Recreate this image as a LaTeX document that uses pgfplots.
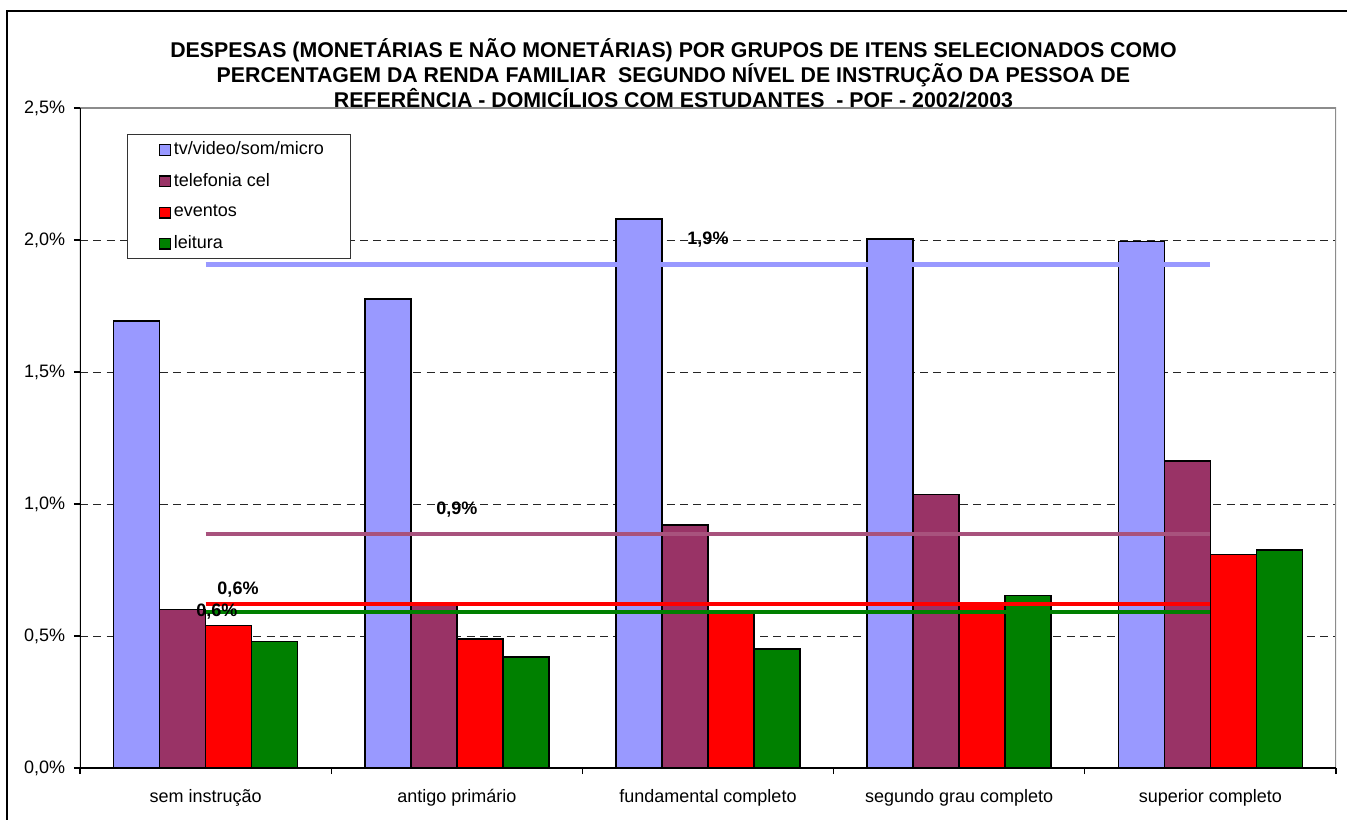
\documentclass[border=0pt]{standalone}
\usepackage{fontspec}
\setmainfont{Liberation Sans}
\usepackage{pgfplots}
\usepackage{pgfplotstable}
\pgfplotsset{compat=1.18}

\definecolor{tvblue}{HTML}{9999FF}
\definecolor{celpurple}{HTML}{993366}
\definecolor{evred}{HTML}{FF0000}
\definecolor{leitgreen}{HTML}{008000}

\pgfplotsset{
  sq legend/.style={legend image code/.code={%
    \path (0pt,0pt);
    \draw[##1,draw=black,line width=0.8pt] (5.5pt,-4.1pt) rectangle (13.75pt,4.1pt);}},
}

% share of family income, by education level
\pgfplotstableread{
x tv cel ev leit
0 1.693 0.601 0.539 0.480
1 1.776 0.615 0.488 0.421
2 2.079 0.921 0.585 0.450
3 2.003 1.035 0.625 0.653
4 1.995 1.163 0.809 0.826
}\datatab

\begin{document}
\fontsize{13.5}{16}\selectfont
\begin{tikzpicture}
\useasboundingbox (0,0) rectangle (1010.25pt,614.25pt);
\draw[line width=1pt] (5.25pt,-3pt) -- (5.25pt,606pt) -- (1015pt,606pt);
\begin{axis}[
  at={(60pt,38.25pt)}, anchor=south west,
  scale only axis, width=942pt, height=495pt,
  xmin=-0.5, xmax=4.5, ymin=0, ymax=2.5,
  xtick={0,...,4},
  xticklabels={sem instrução, antigo primário, fundamental completo, segundo grau completo, superior completo},
  minor xtick={-0.5,0.5,...,4.5},
  major x tick style={draw=none},
  ytick={0,0.5,...,2.5},
  yticklabels={{0,0\%},{0,5\%},{1,0\%},{1,5\%},{2,0\%},{2,5\%}},
  tick align=outside, tick pos=left,
  major tick length=4.5pt, minor tick length=4.5pt,
  tick style={black, line width=0.8pt},
  ymajorgrids,
  major grid style={black!85, line width=0.7pt, dash pattern=on 6pt off 4pt},
  axis line style={draw=none},
  xticklabel style={yshift=-7pt},
  yticklabel style={xshift=-2pt},
  legend style={at={(0.0374,0.9606)}, anchor=north west, draw=black!80,
    line width=0.8pt, inner xsep=18pt, inner ysep=3.5pt, row sep=8pt,
    /tikz/every even column/.append style={column sep=0pt}},
  legend cell align=left,
]
\addplot[ybar, bar width=34.5pt, bar shift=-51.75pt, fill=tvblue, draw=black, line width=1.1pt, sq legend]
  table[x=x, y=tv] {\datatab};
\addplot[ybar, bar width=34.5pt, bar shift=-17.25pt, fill=celpurple, draw=black, line width=1.1pt, sq legend]
  table[x=x, y=cel] {\datatab};
\addplot[ybar, bar width=34.5pt, bar shift=17.25pt, fill=evred, draw=black, line width=1.1pt, sq legend]
  table[x=x, y=ev] {\datatab};
\addplot[ybar, bar width=34.5pt, bar shift=51.75pt, fill=leitgreen, draw=black, line width=1.1pt, sq legend]
  table[x=x, y=leit] {\datatab};
\legend{tv/video/som/micro, telefonia cel, eventos, leitura}

% average lines
\addplot[forget plot, tvblue, line width=3.4pt] coordinates {(0,1.908) (4,1.908)};
\addplot[forget plot, celpurple!85, line width=3.4pt] coordinates {(0,0.886) (4,0.886)};
\addplot[forget plot, evred, line width=3.2pt] coordinates {(0,0.622) (4,0.622)};
\addplot[forget plot, leitgreen, line width=3.2pt] coordinates {(0,0.591) (4,0.591)};

\node[font=\bfseries] at (axis cs:2,2.0) {1,9\%};
\node[font=\bfseries] at (axis cs:1,0.977) {0,9\%};
\node[font=\bfseries] at (axis cs:0.129,0.677) {0,6\%};
\node[font=\bfseries] at (axis cs:0.045,0.593) {0,6\%};

\draw[gray!90, line width=1.3pt] (rel axis cs:0,1) -- (rel axis cs:1,1) -- (rel axis cs:1,0);
\draw[black, line width=0.9pt] (rel axis cs:0,1) -- (rel axis cs:0,0) -- (rel axis cs:1,0);
\end{axis}
\node[align=center, font=\bfseries\fontsize{16}{17.5}\selectfont] at (505.1pt,559.5pt)
  {DESPESAS (MONETÁRIAS E NÃO MONETÁRIAS) POR GRUPOS DE ITENS SELECIONADOS COMO\\
   PERCENTAGEM DA RENDA FAMILIAR~ SEGUNDO NÍVEL DE INSTRUÇÃO DA PESSOA DE\\
   REFERÊNCIA - DOMICÍLIOS COM ESTUDANTES~ - POF - 2002/2003};
\end{tikzpicture}
\end{document}
